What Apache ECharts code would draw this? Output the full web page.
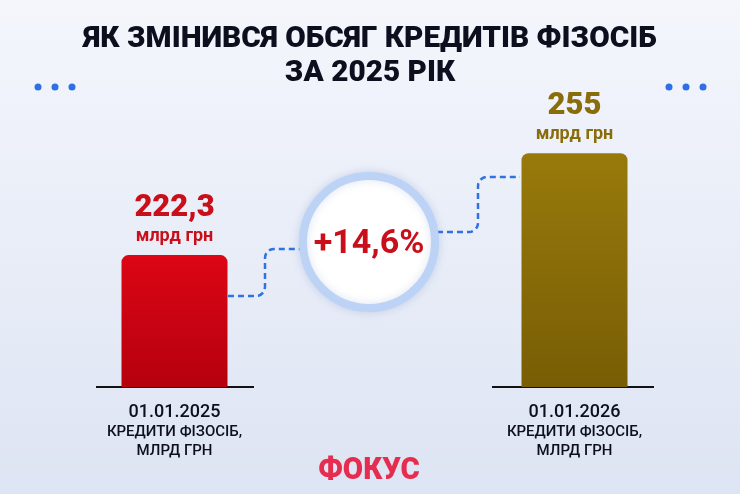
<!DOCTYPE html>
<html>
<head>
<meta charset="utf-8">
<script src="https://cdn.jsdelivr.net/npm/echarts@6/dist/echarts.min.js"></script>
<style>html,body{margin:0;padding:0;}#c{width:740px;height:494px;}</style>
</head>
<body>
<div id="c"></div>
<script>
const titleLines = ['ЯК ЗМІНИВСЯ ОБСЯГ КРЕДИТІВ ФІЗОСІБ', 'ЗА 2025 РІК'];
const categories = ['01.01.2025', '', '01.01.2026'];
const subLabel = ['КРЕДИТИ ФІЗОСІБ,', 'МЛРД ГРН'];
const values = [222.3, null, 255];
const valueLabels = ['222,3', '', '255'];
const unitLabel = 'млрд грн';
const changeLabel = '+14,6%';
const brand = 'ФОКУС';

const chart = echarts.init(document.getElementById('c'), null, {renderer: 'canvas'});
const barColors = [
  ['#dc0615', '#b5000e'],
  null,
  ['#987a0b', '#785d05']
];
const labelColors = ['#c9101a', null, '#8a6d0b'];

const data = values.map((v, i) => v == null ? null : {
  value: v,
  itemStyle: {
    color: {type: 'linear', x: 0, y: 0, x2: 0, y2: 1, colorStops: [
      {offset: 0, color: barColors[i][0]}, {offset: 1, color: barColors[i][1]}]},
    borderRadius: [7, 7, 0, 0]
  },
  label: {
    show: true, position: 'top', distance: 6,
    formatter: '{v|' + valueLabels[i] + '}\n{u|' + unitLabel + '}',
    rich: {
      v: {fontFamily: 'Roboto', fontWeight: 900, fontSize: 31, color: labelColors[i], lineHeight: 30},
      u: {fontFamily: 'Roboto', fontWeight: 700, fontSize: 18, color: labelColors[i], lineHeight: 26}
    }
  }
});

// step connector: horizontal -> rounded corner -> vertical -> rounded corner -> horizontal
function stepPoints(x0, y0, xm, y1, x1, r) {
  const pts = [[x0, y0], [xm - r, y0]];
  const n = 6;
  // corner 1: centre (xm - r, y0 - r), going from bottom to right
  for (let k = 1; k <= n; k++) {
    const a = Math.PI / 2 - (Math.PI / 2) * k / n;
    pts.push([xm - r + r * Math.cos(a), y0 - r + r * Math.sin(a)]);
  }
  pts.push([xm, y1 + r]);
  // corner 2: centre (xm + r, y1 + r), from left to top
  for (let k = 1; k <= n; k++) {
    const a = Math.PI + (Math.PI / 2) * k / n;
    pts.push([xm + r + r * Math.cos(a), y1 + r + r * Math.sin(a)]);
  }
  pts.push([x1, y1]);
  return pts;
}

const dash = {stroke: '#2f72e0', lineWidth: 2.5, lineDash: [6, 4], fill: null};

chart.setOption({
  backgroundColor: {type: 'linear', x: 0, y: 0, x2: 0, y2: 1, colorStops: [
    {offset: 0, color: '#f4f6fc'}, {offset: 1, color: '#dde4f3'}]},
  animation: false,
  grid: {left: 74.5, right: 65.5, top: 44, bottom: 107},
  xAxis: {
    type: 'category', data: categories,
    axisLine: {show: false}, axisTick: {show: false},
    axisLabel: {
      margin: 14, interval: 0,
      formatter: (v) => v ? '{d|' + v + '}\n{s|' + subLabel[0] + '}\n{s|' + subLabel[1] + '}' : '',
      rich: {
        d: {fontFamily: 'Roboto', fontWeight: 500, fontSize: 18, color: '#0d0f1e', lineHeight: 22},
        s: {fontFamily: 'Roboto', fontWeight: 500, fontSize: 15, color: '#0d0f1e', lineHeight: 19}
      }
    }
  },
  yAxis: {type: 'value', min: 180, max: 290, show: false, splitLine: {show: false}},
  series: [{
    type: 'bar', data: data, barWidth: 106
  }],
  graphic: [
    {type: 'text', x: 370, y: 40, scaleX: 1.025, style: {text: titleLines[0], align: 'center', verticalAlign: 'middle', font: '900 29px Roboto', fill: '#0d0f1e'}},
    {type: 'text', x: 370, y: 74, scaleX: 1.025, style: {text: titleLines[1], align: 'center', verticalAlign: 'middle', font: '900 29px Roboto', fill: '#0d0f1e'}},
    {type: 'circle', shape: {cx: 38, cy: 87, r: 3.5}, style: {fill: '#2f6fe6'}},
    {type: 'circle', shape: {cx: 55, cy: 87, r: 3.5}, style: {fill: '#2f6fe6'}},
    {type: 'circle', shape: {cx: 72, cy: 87, r: 3.5}, style: {fill: '#2f6fe6'}},
    {type: 'circle', shape: {cx: 669, cy: 87, r: 3.5}, style: {fill: '#2f6fe6'}},
    {type: 'circle', shape: {cx: 686, cy: 87, r: 3.5}, style: {fill: '#2f6fe6'}},
    {type: 'circle', shape: {cx: 703, cy: 87, r: 3.5}, style: {fill: '#2f6fe6'}},
    {type: 'line', shape: {x1: 96, y1: 387, x2: 254, y2: 387}, style: {stroke: '#111', lineWidth: 2}},
    {type: 'line', shape: {x1: 492, y1: 387, x2: 654, y2: 387}, style: {stroke: '#111', lineWidth: 2}},
    {type: 'polyline', shape: {points: stepPoints(228, 296, 265, 249, 302, 9)}, style: dash},
    {type: 'polyline', shape: {points: stepPoints(437, 232, 478, 177, 520, 9)}, style: dash},
    {type: 'circle', shape: {cx: 369, cy: 242, r: 66}, style: {fill: '#ffffff', stroke: '#bcd3f6', lineWidth: 8, shadowBlur: 10, shadowColor: 'rgba(90,120,190,0.2)'}},
    {type: 'text', x: 369, y: 244, style: {text: changeLabel, align: 'center', verticalAlign: 'middle', font: 'bold 34px Roboto', fill: '#c9101a'}},
    {type: 'text', x: 369, y: 471, scaleX: 0.92, style: {text: brand, align: 'center', verticalAlign: 'middle', font: '900 32px Roboto', fill: '#e62d4f'}}
  ]
});
</script>
</body>
</html>
